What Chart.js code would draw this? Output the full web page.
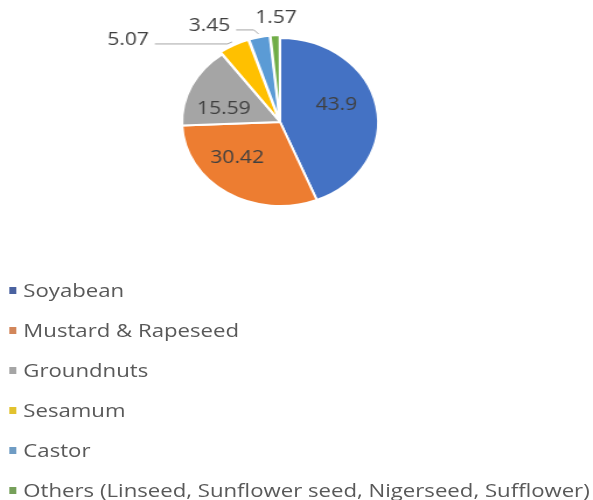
<!DOCTYPE html>
<html>
<head>
<meta charset="utf-8">
<script src="https://cdn.jsdelivr.net/npm/chart.js@4.4.1/dist/chart.umd.min.js"></script>
<style>
  body { margin: 0; background: #fff; }
  /* the source picture is stretched sideways, so the whole page is too */
  #wrap { width: 508px; transform: scaleX(1.167); transform-origin: 0 0; }
  #legend { margin-top: 26px; font-family: "Open Sans", sans-serif; font-size: 19px; color: #595959; }
  .item { height: 40px; line-height: 40px; white-space: nowrap; position: relative; padding-left: 20px; }
  .box { position: absolute; left: 8px; top: 17px; width: 6px; height: 7px; }
</style>
</head>
<body>
<div id="wrap">
  <canvas id="oilseeds" width="480" height="244"></canvas>
  <div id="legend"></div>
</div>
<script>
// share of oilseed production (%)
var crops = ["Soyabean", "Mustard & Rapeseed", "Groundnuts", "Sesamum", "Castor",
  "Others (Linseed, Sunflower seed, Nigerseed, Sufflower)"];
var shares = [43.9, 30.42, 15.59, 5.07, 3.45, 1.57];
var sliceColors = ["#4472C4", "#ED7D31", "#A5A5A5", "#FFC000", "#5B9BD5", "#70AD47"];
var legendColors = ["#4a62a0", "#d2865a", "#a5a5a5", "#e2c22e", "#6f9cc4", "#76a05a"];

// small slices are pulled out, their labels sit outside
var sliceOffsets = [0, 0, 0, 6, 6, 6];
var outside = [false, false, false, true, true, true];
var labelShift = [[-2, -7], [-9, -7], [-2, 9], [-89, -2], [-42, -8], [1, -14]];
var leader = [false, false, false, true, true, false];

var sliceLabels = {
  id: "sliceLabels",
  afterDatasetsDraw: function (chart) {
    var ctx = chart.ctx;
    var meta = chart.getDatasetMeta(0);
    ctx.save();
    ctx.font = '18px "Open Sans"';
    ctx.fillStyle = "#404040";
    ctx.textAlign = "center";
    ctx.textBaseline = "middle";
    meta.data.forEach(function (arc, i) {
      var p = arc.getProps(["x", "y", "startAngle", "endAngle", "outerRadius"], true);
      var mid = (p.startAngle + p.endAngle) / 2;
      var txt = String(shares[i]);
      var er = outside[i] ? p.outerRadius + sliceOffsets[i] : p.outerRadius * 0.61;
      var ex = p.x + Math.cos(mid) * er;
      var ey = p.y + Math.sin(mid) * er;
      var lx = ex + labelShift[i][0];
      var ly = ey + labelShift[i][1];
      ctx.fillText(txt, lx, ly);
      if (leader[i]) {
        var w = ctx.measureText(txt).width;
        ctx.strokeStyle = "#a6a6a6";
        ctx.lineWidth = 1;
        ctx.beginPath();
        ctx.moveTo(lx + w / 2 + 5, ly + 4);
        ctx.lineTo(ex - 4, ly + 4);
        ctx.lineTo(ex, ey);
        ctx.stroke();
      }
    });
    ctx.restore();
  }
};

new Chart("oilseeds", {
  type: "pie",
  data: {
    labels: crops,
    datasets: [{
      data: shares,
      backgroundColor: sliceColors,
      borderColor: "#ffffff",
      borderWidth: 2,
      offset: sliceOffsets
    }]
  },
  options: {
    responsive: false,
    animation: false,
    radius: 84,
    plugins: {
      legend: { display: false },
      tooltip: { enabled: false }
    }
  },
  plugins: [sliceLabels]
});

var legend = document.getElementById("legend");
crops.forEach(function (name, i) {
  var row = document.createElement("div");
  row.className = "item";
  var box = document.createElement("span");
  box.className = "box";
  box.style.background = legendColors[i];
  row.appendChild(box);
  row.appendChild(document.createTextNode(name));
  legend.appendChild(row);
});
</script>
</body>
</html>
